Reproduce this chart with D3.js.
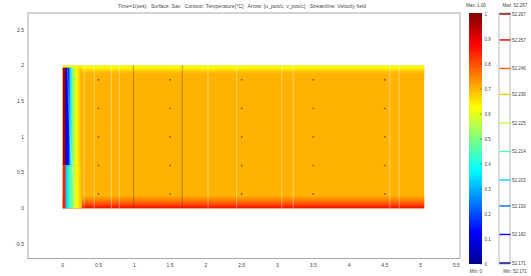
<!DOCTYPE html>
<html>
<head>
<meta charset="utf-8">
<script src="https://cdnjs.cloudflare.com/ajax/libs/d3/7.8.5/d3.min.js"></script>
<style>
  body { margin: 0; background: #fff; }
  text { font-family: "Liberation Sans", Arial, sans-serif; fill: #444; white-space: pre; }
</style>
</head>
<body>
<div id="chart"></div>
<script>
// 1: DATA
const titleText = "Time=1(sek)   Surface: Sav   Contour: Temperature[°C]   Arrow: [u_pos/c, v_pos/c]   Streamline: Velocity field";
const xTicks = [0, 0.5, 1, 1.5, 2, 2.5, 3, 3.5, 4, 4.5, 5, 5.5];
const yTicks = [-0.5, 0, 0.5, 1, 1.5, 2, 2.5];
const domainW = 5.05, domainH = 2;
const bulkValue = 0.7;
// [x, value] stops near the left wall
const leftUpper = [[0, 0.97], [0.03, 0.97], [0.045, 0.1], [0.08, 0.14], [0.105, 0.35], [0.14, 0.5], [0.19, 0.62], [0.26, 0.7]];
const leftLower = [[0, 0.85], [0.03, 0.85], [0.045, 0.32], [0.09, 0.42], [0.14, 0.52], [0.2, 0.63], [0.27, 0.7]];
// [y, value] stops near bottom and top walls
const bottomProfile = [[0, 0.88], [0.04, 0.82], [0.1, 0.76], [0.18, 0.7]];
const topProfile = [[2, 0.6], [1.97, 0.63], [1.92, 0.68], [1.88, 0.7]];
const streamX = [0.30, 0.44, 0.68, 0.79, 2.03, 2.43, 3.06, 3.22, 4.57, 4.70];
const leftStream = [[0.07, 1.97], [0.08, 1.5], [0.1, 1.0], [0.13, 0.6], [0.16, 0.3], [0.17, 0.02]];
const contourX = [0.99, 1.67];
const arrowX = [0.5, 1.5, 2.5, 3.5, 4.5];
const arrowY = [0.2, 0.6, 1.0, 1.4, 1.8];
const colorTicks = [0, 0.1, 0.2, 0.3, 0.4, 0.5, 0.6, 0.7, 0.8, 0.9, 1];
const contourLevels = [52.171, 52.182, 52.193, 52.203, 52.214, 52.225, 52.236, 52.246, 52.257, 52.267];

// 2: SETUP
const W = 531, H = 276;
const svg = d3.select("#chart").append("svg").attr("width", W).attr("height", H);
const defs = svg.append("defs");

const x = d3.scaleLinear().domain([-0.485, 5.55]).range([28, 460]);
const y = d3.scaleLinear().domain([-0.703, 2.735]).range([258.5, 13]);

// jet colormap
const jet = d3.scaleLinear()
    .domain([0, 0.125, 0.375, 0.625, 0.875, 1])
    .range(["#00008f", "#0000ff", "#00ffff", "#ffff00", "#ff0000", "#800000"]);

function gradient(id, stops, horizontal, scale) {
    const a = stops[0][0], b = stops[stops.length - 1][0];
    const g = defs.append("linearGradient").attr("id", id)
        .attr("gradientUnits", "userSpaceOnUse");
    if (horizontal) g.attr("x1", scale(a)).attr("x2", scale(b)).attr("y1", 0).attr("y2", 0);
    else g.attr("x1", 0).attr("x2", 0).attr("y1", scale(a)).attr("y2", scale(b));
    stops.forEach(s => g.append("stop")
        .attr("offset", (s[0] - a) / (b - a))
        .attr("stop-color", jet(s[1])));
}

// 3: SURFACE
const field = svg.append("g");
field.append("rect")
    .attr("x", x(0)).attr("y", y(domainH))
    .attr("width", x(domainW) - x(0)).attr("height", y(0) - y(domainH))
    .attr("fill", jet(bulkValue));

gradient("gBottom", bottomProfile, false, y);
field.append("rect")
    .attr("x", x(0)).attr("y", y(0.18))
    .attr("width", x(domainW) - x(0)).attr("height", y(0) - y(0.18))
    .attr("fill", "url(#gBottom)");

gradient("gTop", topProfile, false, y);
field.append("rect")
    .attr("x", x(0)).attr("y", y(2))
    .attr("width", x(domainW) - x(0)).attr("height", y(1.88) - y(2))
    .attr("fill", "url(#gTop)");

gradient("gLeftU", leftUpper, true, x);
field.append("rect")
    .attr("x", x(0)).attr("y", y(1.97))
    .attr("width", x(0.26) - x(0)).attr("height", y(0.6) - y(1.97))
    .attr("fill", "url(#gLeftU)");

gradient("gLeftL", leftLower, true, x);
field.append("rect")
    .attr("x", x(0)).attr("y", y(0.6))
    .attr("width", x(0.27) - x(0)).attr("height", y(0) - y(0.6))
    .attr("fill", "url(#gLeftL)");

// streamlines
field.selectAll(".stream").data(streamX).join("line")
    .attr("x1", d => x(d)).attr("x2", d => x(d))
    .attr("y1", y(0)).attr("y2", y(domainH))
    .attr("stroke", "#fff").attr("stroke-opacity", 0.5).attr("stroke-width", 0.8);

field.append("path")
    .datum(leftStream)
    .attr("d", d3.line().x(d => x(d[0])).y(d => y(d[1])).curve(d3.curveBasis))
    .attr("fill", "none").attr("stroke", "#fff").attr("stroke-opacity", 0.5).attr("stroke-width", 0.8);

// contour lines
field.selectAll(".contour").data(contourX).join("line")
    .attr("x1", d => x(d)).attr("x2", d => x(d))
    .attr("y1", y(0)).attr("y2", y(domainH))
    .attr("stroke", "#7a4d10").attr("stroke-opacity", 0.8).attr("stroke-width", 0.7);

// arrows (tiny)
const arrowPts = arrowX.flatMap(ax => arrowY.map(ay => [ax, ay]));
field.selectAll(".arrow").data(arrowPts).join("circle")
    .attr("cx", d => x(d[0])).attr("cy", d => y(d[1]))
    .attr("r", 0.9).attr("fill", "#8a5a10");

// 4: AXES BOX + TICKS
svg.append("rect")
    .attr("x", x.range()[0]).attr("y", y.range()[1])
    .attr("width", x.range()[1] - x.range()[0]).attr("height", y.range()[0] - y.range()[1])
    .attr("fill", "none").attr("stroke", "#a8a8a8").attr("stroke-width", 1);

svg.selectAll(".xt").data(xTicks).join("text")
    .attr("x", d => x(d)).attr("y", 267)
    .attr("text-anchor", "middle").style("font-size", "5px")
    .text(d => d);

svg.selectAll(".yt").data(yTicks).join("text")
    .attr("x", 24).attr("y", d => y(d)).attr("dy", "0.35em")
    .attr("text-anchor", "end").style("font-size", "5px")
    .text(d => d);

svg.append("text")
    .attr("x", 242).attr("y", 8)
    .attr("text-anchor", "middle").style("font-size", "5px")
    .attr("textLength", 248).attr("lengthAdjust", "spacing")
    .text(titleText);

// 5: SURFACE COLORBAR
const cb = d3.scaleLinear().domain([0, 1]).range([264, 14]);
const cbGrad = defs.append("linearGradient").attr("id", "gBar")
    .attr("x1", 0).attr("x2", 0).attr("y1", 1).attr("y2", 0);
jet.domain().forEach(v => cbGrad.append("stop").attr("offset", v).attr("stop-color", jet(v)));
svg.append("rect")
    .attr("x", 469).attr("y", cb(1) - 1)
    .attr("width", 13).attr("height", cb(0) - cb(1) + 1)
    .attr("fill", "url(#gBar)");
svg.selectAll(".cbt").data(colorTicks).join("line")
    .attr("x1", 480).attr("x2", 482)
    .attr("y1", d => cb(d)).attr("y2", d => cb(d))
    .attr("stroke", "#333").attr("stroke-width", 0.5);
svg.selectAll(".cbl").data(colorTicks).join("text")
    .attr("x", 484.5).attr("y", d => cb(d)).attr("dy", "0.35em")
    .style("font-size", "4.5px")
    .text(d => d);
svg.append("text").attr("x", 476).attr("y", 7).attr("text-anchor", "middle")
    .style("font-size", "4.5px").text("Max: 1.00");
svg.append("text").attr("x", 476).attr("y", 273).attr("text-anchor", "middle")
    .style("font-size", "4.5px").text("Min: 0");

// 6: CONTOUR LEGEND
const lv = d3.extent(contourLevels);
const cl = d3.scaleLinear().domain(lv).range([263, 14]);
const clColor = v => jet((v - lv[0]) / (lv[1] - lv[0]));
svg.append("rect")
    .attr("x", 499).attr("y", 13).attr("width", 11).attr("height", 251)
    .attr("fill", "#fff").attr("stroke", "#a8a8a8").attr("stroke-width", 0.8);
svg.selectAll(".cll").data(contourLevels).join("line")
    .attr("x1", 499.5).attr("x2", 510.5)
    .attr("y1", d => cl(d)).attr("y2", d => cl(d))
    .attr("stroke", d => clColor(d)).attr("stroke-width", 1.4);
svg.selectAll(".clt").data(contourLevels).join("text")
    .attr("x", 512).attr("y", d => cl(d)).attr("dy", "0.35em")
    .style("font-size", "4.5px")
    .text(d => d3.format(".3f")(d));
svg.append("text").attr("x", 515).attr("y", 7).attr("text-anchor", "middle")
    .style("font-size", "4.5px").text("Max: 52.267");
svg.append("text").attr("x", 515).attr("y", 273).attr("text-anchor", "middle")
    .style("font-size", "4.5px").text("Min: 52.171");
</script>
</body>
</html>
